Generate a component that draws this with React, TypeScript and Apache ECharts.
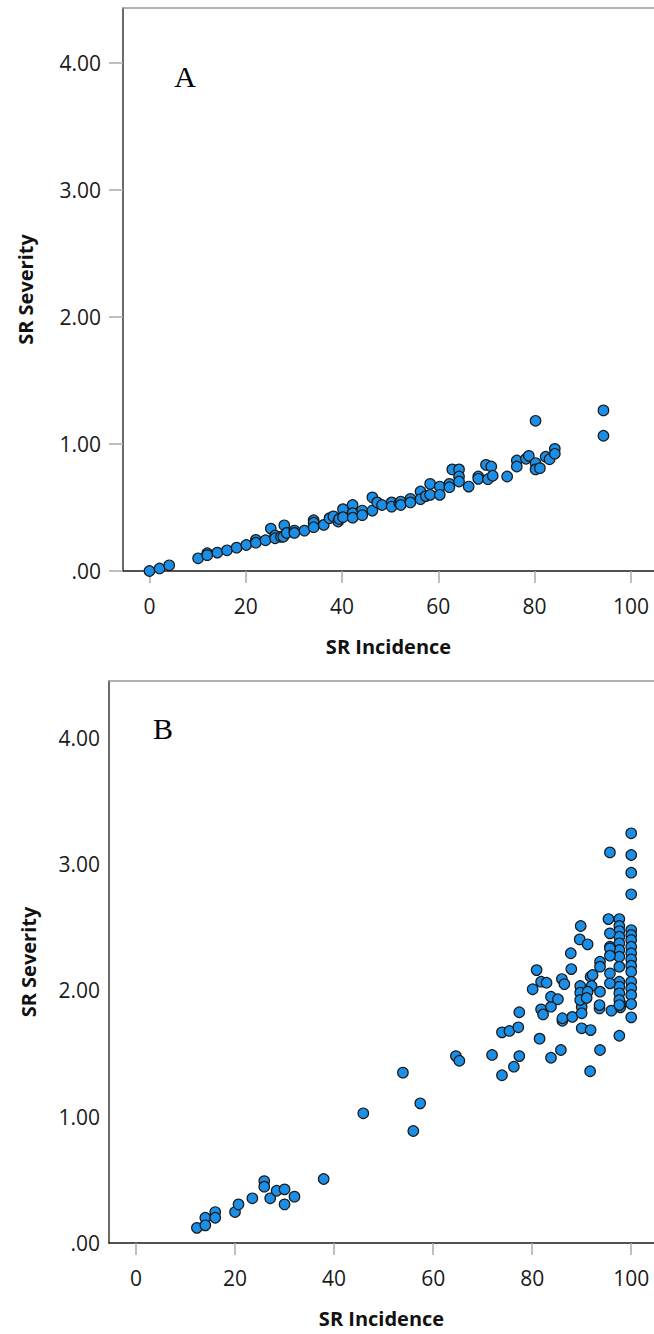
import React, { useEffect, useRef } from "react";
import * as echarts from "echarts";

// Panel A: SR Incidence vs SR Severity
const incidenceA = [0, 2.1, 4.1, 10.1, 12, 12, 14.1, 16.1, 18.1, 20.1, 22.1, 22.1, 24.1, 25.2, 26.1, 26.1, 27.3, 27.8, 28, 28.5, 30.1, 30.1, 32.2, 34.1, 34.1, 34.1, 36.2, 37.4, 38.2, 39.2, 39.4, 40.2, 40.2, 42.2, 42.2, 42.2, 44.2, 44.2, 46.3, 46.3, 47.3, 48.3, 50.3, 50.3, 51.9, 52.2, 52.2, 54.2, 54.2, 56.3, 56.3, 57.4, 58.3, 58.3, 60.3, 60.3, 62.3, 62.3, 62.9, 64.3, 64.3, 64.3, 66.3, 68.3, 68.3, 69.9, 71, 70.3, 71.3, 74.3, 76.3, 76.3, 78.2, 78.8, 80.2, 80.2, 80.2, 81.1, 82.3, 83.1, 84.2, 84.2, 94.3, 94.3];
const severityA = [0, 0.02, 0.045, 0.1, 0.14, 0.125, 0.145, 0.163, 0.184, 0.205, 0.245, 0.223, 0.242, 0.334, 0.28, 0.258, 0.27, 0.27, 0.36, 0.3, 0.318, 0.3, 0.318, 0.4, 0.38, 0.345, 0.363, 0.416, 0.43, 0.39, 0.41, 0.487, 0.424, 0.52, 0.455, 0.42, 0.476, 0.44, 0.58, 0.476, 0.54, 0.52, 0.54, 0.507, 0.534, 0.547, 0.52, 0.568, 0.54, 0.626, 0.566, 0.59, 0.686, 0.6, 0.665, 0.6, 0.686, 0.66, 0.8, 0.8, 0.744, 0.705, 0.665, 0.744, 0.726, 0.836, 0.823, 0.723, 0.75, 0.744, 0.87, 0.823, 0.884, 0.907, 1.183, 0.85, 0.8, 0.81, 0.9, 0.88, 0.962, 0.923, 1.265, 1.065];

// Panel B
const incidenceB = [12.3, 14, 14, 16, 16, 20, 20.7, 23.5, 25.9, 25.9, 27.1, 28.4, 30, 30, 32, 37.9, 45.9, 53.9, 57.4, 56, 64.6, 65.3, 71.9, 73.9, 75.4, 77.2, 73.9, 76.3, 77.4, 77.4, 81.5, 81.8, 82.2, 83.8, 83.8, 85.8, 86.1, 86.1, 88.1, 90, 90, 90, 91.8, 91.7, 93.7, 93.6, 93.6, 96, 97.6, 97.8, 97.8,
  100, 100, 100, 100, 100, 100, 100, 100, 100, 100, 100, 100, 100, 100, 100, 100, 100,
  95.7, 95.4,
  97.6, 97.6, 97.6, 97.6, 97.6, 97.6, 97.6, 97.6, 97.6, 97.6, 97.6, 97.6, 97.6,
  95.7, 95.7, 95.7, 95.7, 95.7, 95.7,
  89.8, 89.6, 91.2, 87.8, 87.9, 80.9, 81.8, 82.9, 80.1, 86, 86.5, 83.8, 85.2, 89.7, 89.7, 89.7, 91.8, 92.2, 92, 91.2, 91, 93.7, 93.7, 93.7];
const severityB = [0.12, 0.2, 0.14, 0.245, 0.2, 0.245, 0.306, 0.354, 0.49, 0.446, 0.354, 0.414, 0.425, 0.306, 0.367, 0.507, 1.027, 1.349, 1.106, 0.887, 1.48, 1.443, 1.489, 1.668, 1.679, 1.708, 1.328, 1.396, 1.48, 1.827, 1.618, 1.85, 1.81, 1.871, 1.467, 1.528, 1.76, 1.78, 1.79, 1.871, 1.819, 1.7, 1.686, 1.36, 1.528, 1.858, 1.884, 1.84, 1.641, 1.866, 1.898,
  3.244, 3.072, 2.932, 2.761, 2.478, 2.439, 2.399, 2.346, 2.294, 2.246, 2.196, 2.148, 2.069, 2.017, 1.964, 1.892, 1.787,
  3.093, 2.565,
  2.565, 2.51, 2.47, 2.425, 2.373, 2.32, 2.267, 2.188, 2.069, 2.03, 1.977, 1.924, 1.884,
  2.452, 2.346, 2.333, 2.275, 2.135, 2.056,
  2.51, 2.404, 2.365, 2.294, 2.169, 2.161, 2.069, 2.061, 2.009, 2.09, 2.05, 1.95, 1.93, 2.035, 1.982, 1.924, 2.108, 2.122, 2.035, 1.99, 1.94, 2.227, 2.188, 1.99];

const xTicks = [0, 20, 40, 60, 80, 100];
const yTicks = [0, 1, 2, 3, 4];
const xName = "SR Incidence";
const yName = "SR Severity";
const panelLabels = ["A", "B"];

const zip = (xs: number[], ys: number[]) => xs.map((x, i) => [x, ys[i]]);

export default function App() {
  const ref = useRef<HTMLDivElement>(null);
  useEffect(() => {
    if (!ref.current) return;
    const chart = echarts.init(ref.current, undefined, { renderer: "svg" });
    const labelFont = { fontFamily: "Open Sans", fontSize: 21, color: "#1a1a1a" };
    const nameFont = { fontFamily: "Open Sans", fontSize: 20, fontWeight: "bold" as const, color: "#111" };
    const grids = [
      { left: 123, top: 8, width: 531, height: 563 },
      { left: 109, top: 681, width: 545, height: 562 },
    ];
    const xRanges = [[-5.5, 104.8], [-5.45, 104.6]];
    const yMax = [4.434, 4.45];
    const yGap = [88, 71];
    const yLabelMargin = [22, 9];
    const xAxes: any[] = [];
    const yAxes: any[] = [];
    [0, 1].forEach((g) => {
      xAxes.push({
        type: "value",
        gridIndex: g,
        min: xRanges[g][0],
        max: xRanges[g][1],
        position: "bottom",
        name: xName,
        nameLocation: "middle",
        nameGap: 65,
        nameTextStyle: nameFont,
        axisLine: { show: true, onZero: false, lineStyle: { color: "#1a1a1a", width: 1.6 } },
        axisTick: { show: true, customValues: xTicks, length: 12, lineStyle: { color: "#aaa", width: 1.5 } },
        axisLabel: { show: true, customValues: xTicks, margin: 24, ...labelFont },
        splitLine: { show: false },
      });
      xAxes.push({
        type: "value",
        gridIndex: g,
        min: 0,
        max: 1,
        position: "top",
        axisLine: { show: true, onZero: false, lineStyle: { color: "#999", width: 1.5 } },
        axisTick: { show: false },
        axisLabel: { show: false },
        splitLine: { show: false },
      });
      yAxes.push({
        type: "value",
        gridIndex: g,
        min: 0,
        max: yMax[g],
        name: yName,
        nameLocation: "middle",
        nameGap: yGap[g],
        nameTextStyle: nameFont,
        axisLine: { show: true, onZero: false, lineStyle: { color: "#444", width: 1.6 } },
        axisTick: { show: g === 0, customValues: yTicks, length: 14, lineStyle: { color: "#aaa", width: 1.5 } },
        axisLabel: {
          show: true,
          customValues: yTicks,
          margin: yLabelMargin[g],
          formatter: (v: number) => (v === 0 ? ".00" : v.toFixed(2)),
          ...labelFont,
        },
        splitLine: { show: false },
      });
    });
    const marker = {
      symbol: "circle",
      symbolSize: 10.5,
      itemStyle: { color: "#1b8fe8", borderColor: "#1a1a1a", borderWidth: 1.2, opacity: 1 },
    };
    chart.setOption({
      animation: false,
      grid: grids,
      xAxis: xAxes,
      yAxis: yAxes,
      series: [
        { type: "scatter", xAxisIndex: 0, yAxisIndex: 0, data: zip(incidenceA, severityA), ...marker },
        { type: "scatter", xAxisIndex: 2, yAxisIndex: 1, data: zip(incidenceB, severityB), ...marker },
      ],
      graphic: [
        {
          type: "text",
          x: 185,
          y: 76,
          style: { text: panelLabels[0], font: "30px 'Liberation Serif'", fill: "#000", textAlign: "center", textVerticalAlign: "middle" },
        },
        {
          type: "text",
          x: 163,
          y: 728,
          style: { text: panelLabels[1], font: "30px 'Liberation Serif'", fill: "#000", textAlign: "center", textVerticalAlign: "middle" },
        },
      ],
    });
    return () => chart.dispose();
  }, []);
  return <div ref={ref} style={{ position: "absolute", left: 0, top: 0, width: 654, height: 1334 }} />;
}
